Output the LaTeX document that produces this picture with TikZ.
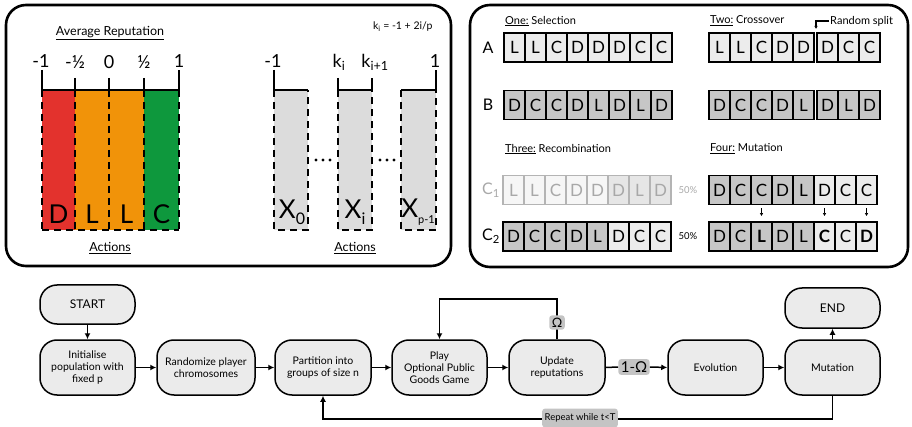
\documentclass[tikz,border=0pt]{standalone}
\usepackage{fontspec}
\setmainfont{Lato}
\usetikzlibrary{arrows.meta}
\definecolor{redbar}{HTML}{E3322D}
\definecolor{orangebar}{HTML}{F19309}
\definecolor{greenbar}{HTML}{0E983D}
\definecolor{greybar}{HTML}{DCDCDC}
\definecolor{celllt}{HTML}{ECECEC}
\definecolor{celldk}{HTML}{C6C6C6}
\definecolor{fadelt}{HTML}{F6F6F6}
\definecolor{fadedk}{HTML}{E6E6E6}
\definecolor{fadeln}{HTML}{B4B4B4}
\definecolor{fadetx}{HTML}{A8A8A8}
\definecolor{flowgrey}{HTML}{EBEBEB}
\definecolor{labgrey}{HTML}{C4C4C4}
\newcommand\smallsub[2]{\raisebox{-0.25em}{\fontsize{#1}{#1}\selectfont #2}}
\tikzset{
  panel/.style={line width=2.6pt, rounded corners=20pt},
  tickln/.style={line width=2.6pt},
  dashln/.style={line width=1.8pt, dash pattern=on 7pt off 5pt},
  cell/.style={draw, line width=1.3pt, minimum width=21pt, minimum height=29pt, inner sep=0pt, font=\fontsize{17}{17}\selectfont},
  lt/.style={fill=celllt},
  dk/.style={fill=celldk},
  fl/.style={fill=fadelt, draw=fadeln, text=fadetx},
  fd/.style={fill=fadedk, draw=fadeln, text=fadetx},
  bigl/.style={font=\fontsize{26}{26}\selectfont},
  num/.style={font=\fontsize{18}{18}\selectfont},
  head/.style={font=\fontsize{11}{11}\selectfont, inner sep=1pt},
  headl/.style={font=\fontsize{12.5}{12.5}\selectfont, inner sep=1pt},
  flow/.style={draw, line width=1.5pt, fill=flowgrey, rounded corners=17pt, minimum width=95pt, minimum height=55pt, align=center, font=\fontsize{10.5}{12}\selectfont, inner sep=2pt},
  lab/.style={fill=labgrey, rounded corners=3pt, inner sep=2.5pt},
  arr/.style={line width=1.5pt, -{Latex[length=6pt,width=6pt]}},
  plain/.style={line width=1.5pt},
}
\newcommand\cellrow[4]{%
  \foreach \t/\f [count=\i from 0] in {#4} {
    \node[cell,\f] (#1\i) at ({#2+10.5+21*\i},#3) {\t};
  }}
\begin{document}
\begin{tikzpicture}[x=1pt,y=-1pt]
\useasboundingbox (0,0) rectangle (912,427);
% ---------- Left panel ----------
\draw[panel] (6,5) rectangle (451,266);
\node[headl] (avgrep) at (110,33) {\underline{Average Reputation}};
\fill[redbar] (42,90) rectangle (75,230);
\fill[orangebar] (75,90) rectangle (144,230);
\fill[greenbar] (144,90) rectangle (179,230);
\foreach \x in {42,75,109,144,179} \draw[dashln] (\x,90) -- (\x,230);
\draw[dashln] (42,230) -- (179,230);
\draw[tickln] (42,70) -- (42,90) -- (179,90) -- (179,70);
\foreach \x in {75,109,144} \draw[line width=1.8pt] (\x,78) -- (\x,90);
\node[num] (n1) at (41,61) {-1};
\node[num] (n2) at (75,62) {-½};
\node[num] (n3) at (109,62) {0};
\node[num] (n4) at (144,62) {½};
\node[num] (n5) at (179,61) {1};
\node[bigl] (ld) at (58.5,214) {D};
\node[bigl] (ll1) at (92,214) {L};
\node[bigl] (ll2) at (126.5,214) {L};
\node[bigl] (lc) at (161.5,214) {C};
\node[headl] (act1) at (110,248) {\underline{Actions}};
% grey bars
\foreach \a/\b in {274/308,338/372,401/436} {
  \fill[greybar] (\a,90) rectangle (\b,230);
  \draw[dashln] (\a,90) -- (\a,230) -- (\b,230) -- (\b,90);
}
\draw[tickln] (274,70) -- (274,90) -- (308,90);
\draw[tickln] (338,78) -- (338,90) -- (372,90) -- (372,78);
\draw[tickln] (401,90) -- (436,90) -- (436,70);
\foreach \x in {316,323,330,380,387,394} \fill (\x,160) circle (1.6pt);
\node[num] (m1) at (273,61) {-1};
\node[num] (m2) at (339,62) {k\textsubscript{i}};
\node[num] (m3) at (375,62) {k\textsubscript{i+1}};
\node[num] (m4) at (435,61) {1};
\node[bigl] (x0) at (292,212) {X\smallsub{16}{0}};
\node[bigl] (xi) at (355,212) {X\smallsub{16}{i}};
\node[bigl] (xp) at (418,212) {X\smallsub{11}{p-1}};
\node[font=\fontsize{10.5}{10.5}\selectfont, anchor=east] (kform) at (436,27) {k\textsubscript{i} = -1 + 2i/p};
\node[headl] (act2) at (355,248) {\underline{Actions}};
% ---------- Right panel ----------
\draw[panel] (470,5) rectangle (908,267);
\node[head, anchor=west] (h1) at (504,21) {\underline{One:} Selection};
\node[head, anchor=west] (h2) at (709,21) {\underline{Two:} Crossover};
\node[head, anchor=west] (h3) at (504,149) {\underline{Three:} Recombination};
\node[head, anchor=west] (h4) at (709,149) {\underline{Four:} Mutation};
\node[font=\fontsize{16}{16}\selectfont] (la) at (488,47.5) {A};
\node[font=\fontsize{16}{16}\selectfont] (lb) at (488,105) {B};
\node[font=\fontsize{16}{16}\selectfont, text=fadetx] (lc1) at (491,190) {C\textsubscript{1}};
\node[font=\fontsize{16}{16}\selectfont] (lc2) at (491,236.5) {C\textsubscript{2}};
\cellrow{a}{504}{47.5}{L/lt,L/lt,C/lt,D/lt,D/lt,D/lt,C/lt,C/lt}
\cellrow{b}{504}{105}{D/dk,C/dk,C/dk,D/dk,L/dk,D/dk,L/dk,D/dk}
\cellrow{xa}{709}{47.5}{L/lt,L/lt,C/lt,D/lt,D/lt}
\cellrow{ya}{817}{47.5}{D/lt,C/lt,C/lt}
\cellrow{xb}{709}{105}{D/dk,C/dk,C/dk,D/dk,L/dk}
\cellrow{yb}{817}{105}{D/dk,L/dk,D/dk}
\cellrow{ca}{503}{190}{L/fl,L/fl,C/fl,D/fl,D/fl,D/fd,L/fd,D/fd}
\cellrow{cb}{503}{236.5}{D/dk,C/dk,C/dk,D/dk,L/dk,D/lt,C/lt,C/lt}
\cellrow{ma}{709}{190}{D/dk,C/dk,C/dk,D/dk,L/dk,D/lt,C/lt,C/lt}
\cellrow{mb}{709}{236.5}{D/dk,C/dk,\textbf{L}/dk,D/dk,L/dk,\textbf{C}/lt,C/lt,\textbf{D}/lt}
\node[font=\fontsize{9.5}{9.5}\selectfont, text=fadetx] (p1) at (688,190) {50\%};
\node[font=\fontsize{9.5}{9.5}\selectfont] (p2) at (688,236.5) {50\%};
\foreach \k in {2,5,7} \draw[line width=1pt, -{Latex[length=3pt,width=3.5pt]}] (ma\k.south) ++(0,3) -- ++(0,8);
\node[head, anchor=west] (rs) at (829,21) {Random split};
\draw[line width=1.3pt, -{Latex[length=3pt,width=3.5pt]}] (rs.west) -- (816,21) -- (816,29);
% ---------- Flowchart ----------
\node[flow, minimum height=39pt, font=\fontsize{12}{12}\selectfont] (start) at (87.5,304.5) {START};
\node[flow] (init) at (87.5,367.5) {Initialise\\population with\\fixed p};
\node[flow, minimum width=98pt] (rand) at (206,367.5) {Randomize player\\chromosomes};
\node[flow, minimum width=96pt] (part) at (323,367.5) {Partition into\\groups of size n};
\node[flow] (play) at (439.5,367.5) {Play\\Optional Public\\Goods Game};
\node[flow, minimum width=96pt] (update) at (557,367.5) {Update\\reputations};
\node[flow] (evol) at (715.5,367.5) {Evolution};
\node[flow] (mut) at (832.5,367.5) {Mutation};
\node[flow, minimum height=40pt, font=\fontsize{12}{12}\selectfont] (endn) at (832.5,308) {END};
\draw[arr] (start) -- (init);
\draw[arr] (init) -- (rand);
\draw[arr] (rand) -- (part);
\draw[arr] (part) -- (play);
\draw[arr] (play) -- (update);
\node[lab, font=\fontsize{15}{15}\selectfont] (omc) at (634,367) {1-Ω};
\draw[plain] (update.east) -- (omc.west);
\draw[arr] (omc.east) -- (evol.west);
\draw[arr] (evol) -- (mut);
\draw[arr] (mut) -- (endn);
\draw[arr] (update.north) -- ++(0,-40) -| (play.north);
\node[lab, font=\fontsize{13}{13}\selectfont] (omega) at (557,322.5) {Ω};
\draw[arr] (mut.south) -- ++(0,23) -| (part.south);
\node[lab, font=\fontsize{9.5}{9.5}\selectfont, minimum height=19pt] (rep) at (580,418) {Repeat while t<T};
\end{tikzpicture}
\end{document}
